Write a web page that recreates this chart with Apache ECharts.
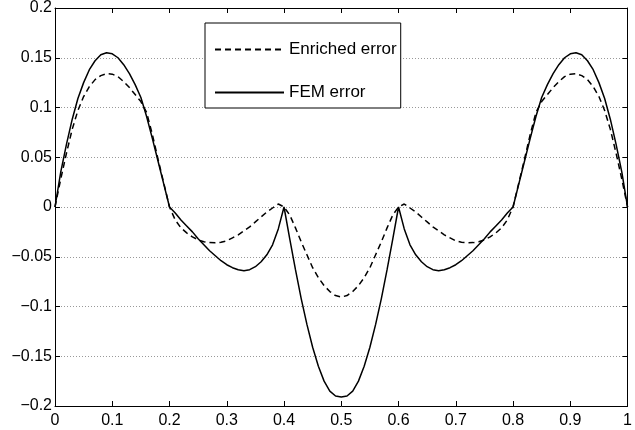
<!DOCTYPE html>
<html>
<head>
<meta charset="utf-8">
<script src="https://cdn.jsdelivr.net/npm/echarts@6/dist/echarts.min.js"></script>
<style>
html,body{margin:0;padding:0;background:#fff;}
#chart{width:635px;height:430px;}
</style>
</head>
<body>
<div id="chart"></div>
<script>
const xValues = [
  0.00,0.01,0.02,0.03,0.04,0.05,0.06,0.07,0.08,0.09,
  0.10,0.11,0.12,0.13,0.14,0.15,0.16,0.17,0.18,0.19,
  0.20,0.21,0.22,0.23,0.24,0.25,0.26,0.27,0.28,0.29,
  0.30,0.31,0.32,0.33,0.34,0.35,0.36,0.37,0.38,0.39,
  0.40,0.41,0.42,0.43,0.44,0.45,0.46,0.47,0.48,0.49,
  0.50,0.51,0.52,0.53,0.54,0.55,0.56,0.57,0.58,0.59,
  0.60,0.61,0.62,0.63,0.64,0.65,0.66,0.67,0.68,0.69,
  0.70,0.71,0.72,0.73,0.74,0.75,0.76,0.77,0.78,0.79,
  0.80,0.81,0.82,0.83,0.84,0.85,0.86,0.87,0.88,0.89,
  0.90,0.91,0.92,0.93,0.94,0.95,0.96,0.97,0.98,0.99,
  1.00
];

const enrichedError = [
  0, 0.028, 0.054, 0.078, 0.097, 0.111, 0.121, 0.128, 0.132, 0.134,
  0.1335, 0.131, 0.126, 0.120, 0.113, 0.106, 0.095, 0.073, 0.048, 0.024,
  0, -0.013, -0.021, -0.026, -0.030, -0.033, -0.035, -0.0358, -0.036, -0.0355,
  -0.034, -0.031, -0.028, -0.024, -0.020, -0.015, -0.010, -0.005, -0.001, 0.003,
  0, -0.008, -0.021, -0.035, -0.048, -0.061, -0.071, -0.079, -0.085, -0.089,
  -0.0905, -0.089, -0.085, -0.079, -0.071, -0.061, -0.048, -0.035, -0.021, -0.008,
  0, 0.003, -0.001, -0.005, -0.010, -0.015, -0.020, -0.024, -0.028, -0.031,
  -0.034, -0.0355, -0.036, -0.0358, -0.035, -0.033, -0.030, -0.026, -0.021, -0.013,
  0, 0.024, 0.048, 0.073, 0.095, 0.106, 0.113, 0.120, 0.126, 0.131,
  0.1335, 0.134, 0.132, 0.128, 0.121, 0.111, 0.097, 0.078, 0.054, 0.028,
  0
];

const femError = [
  0, 0.035, 0.063, 0.088, 0.109, 0.125, 0.138, 0.147, 0.153, 0.155,
  0.154, 0.150, 0.143, 0.134, 0.123, 0.110, 0.091, 0.069, 0.046, 0.023,
  0, -0.006, -0.013, -0.019, -0.025, -0.032, -0.038, -0.044, -0.049, -0.054,
  -0.058, -0.061, -0.063, -0.064, -0.063, -0.060, -0.055, -0.048, -0.038, -0.022,
  0, -0.032, -0.063, -0.092, -0.118, -0.141, -0.160, -0.175, -0.185, -0.190,
  -0.191, -0.190, -0.185, -0.175, -0.160, -0.141, -0.118, -0.092, -0.063, -0.032,
  0, -0.022, -0.038, -0.048, -0.055, -0.060, -0.063, -0.064, -0.063, -0.061,
  -0.058, -0.054, -0.049, -0.044, -0.038, -0.032, -0.025, -0.019, -0.013, -0.006,
  0, 0.023, 0.046, 0.069, 0.091, 0.110, 0.123, 0.134, 0.143, 0.150,
  0.154, 0.155, 0.153, 0.147, 0.138, 0.125, 0.109, 0.088, 0.063, 0.035,
  0
];

const seriesNames = ['Enriched error', 'FEM error'];

const xTicks = [0, 0.1, 0.2, 0.3, 0.4, 0.5, 0.6, 0.7, 0.8, 0.9, 1];
const xTickLabels = ['0', '0.1', '0.2', '0.3', '0.4', '0.5', '0.6', '0.7', '0.8', '0.9', '1'];
const yTicks = [-0.2, -0.15, -0.1, -0.05, 0, 0.05, 0.1, 0.15, 0.2];
const yTickLabels = ['\u22120.2', '\u22120.15', '\u22120.1', '\u22120.05', '0', '0.05', '0.1', '0.15', '0.2'];

function labelFor(ticks, labels) {
  return function (v) {
    let best = 0, d = Infinity;
    ticks.forEach((t, i) => { const dd = Math.abs(t - v); if (dd < d) { d = dd; best = i; } });
    return labels[best];
  };
}

const FONT = '"Liberation Sans", Arial, Helvetica, sans-serif';

const chart = echarts.init(document.getElementById('chart'), null, {renderer: 'canvas'});

const baseX = {
  type: 'value', min: 0, max: 1, interval: 0.1,
  axisLine: {show: true, onZero: false, lineStyle: {color: '#000', width: 1}},
  axisTick: {show: true, inside: true, length: 5, lineStyle: {color: '#000', width: 1}},
  splitLine: {show: false}
};
const baseY = {
  type: 'value', min: -0.2, max: 0.2, interval: 0.05,
  axisLine: {show: true, onZero: false, lineStyle: {color: '#000', width: 1}},
  axisTick: {show: true, inside: true, length: 5, lineStyle: {color: '#000', width: 1}}
};

chart.setOption({
  animation: false,
  backgroundColor: '#fff',
  grid: {left: 55, right: 7, top: 8, bottom: 24, show: false, containLabel: false},
  legend: {
    show: true,
    data: seriesNames,
    orient: 'vertical',
    left: 205,
    top: 23,
    padding: [18, 4, 7, 9],
    itemWidth: 69,
    itemHeight: 17,
    itemGap: 26,
    backgroundColor: '#fff',
    borderColor: '#000',
    borderWidth: 1,
    borderRadius: 0,
    itemStyle: {opacity: 0},
    lineStyle: {opacity: 1},
    textStyle: {fontFamily: FONT, fontSize: 17, color: '#000'}
  },
  xAxis: [
    Object.assign({}, baseX, {
      position: 'bottom',
      axisLabel: {show: true, margin: 7, color: '#000', fontFamily: FONT, fontSize: 16,
        formatter: labelFor(xTicks, xTickLabels)}
    }),
    Object.assign({}, baseX, {position: 'top', axisLabel: {show: false}})
  ],
  yAxis: [
    Object.assign({}, baseY, {
      position: 'left',
      axisLabel: {show: true, margin: 3, color: '#000', fontFamily: FONT, fontSize: 16,
        formatter: labelFor(yTicks, yTickLabels)},
      splitLine: {show: true, lineStyle: {color: '#999', width: 1, type: [1, 2]}}
    }),
    Object.assign({}, baseY, {position: 'right', axisLabel: {show: false}, splitLine: {show: false}})
  ],
  series: [
    {
      name: seriesNames[0],
      type: 'line',
      xAxisIndex: 0, yAxisIndex: 0,
      data: xValues.map((x, i) => [x, enrichedError[i]]),
      symbol: 'none',
      smooth: false,
      lineStyle: {color: '#000', width: 1.5, type: [6, 4]},
      itemStyle: {color: '#000'},
      z: 3
    },
    {
      name: seriesNames[1],
      type: 'line',
      xAxisIndex: 0, yAxisIndex: 0,
      data: xValues.map((x, i) => [x, femError[i]]),
      symbol: 'none',
      smooth: false,
      lineStyle: {color: '#000', width: 1.5, type: 'solid'},
      itemStyle: {color: '#000'},
      z: 4
    }
  ]
});
</script>
</body>
</html>
